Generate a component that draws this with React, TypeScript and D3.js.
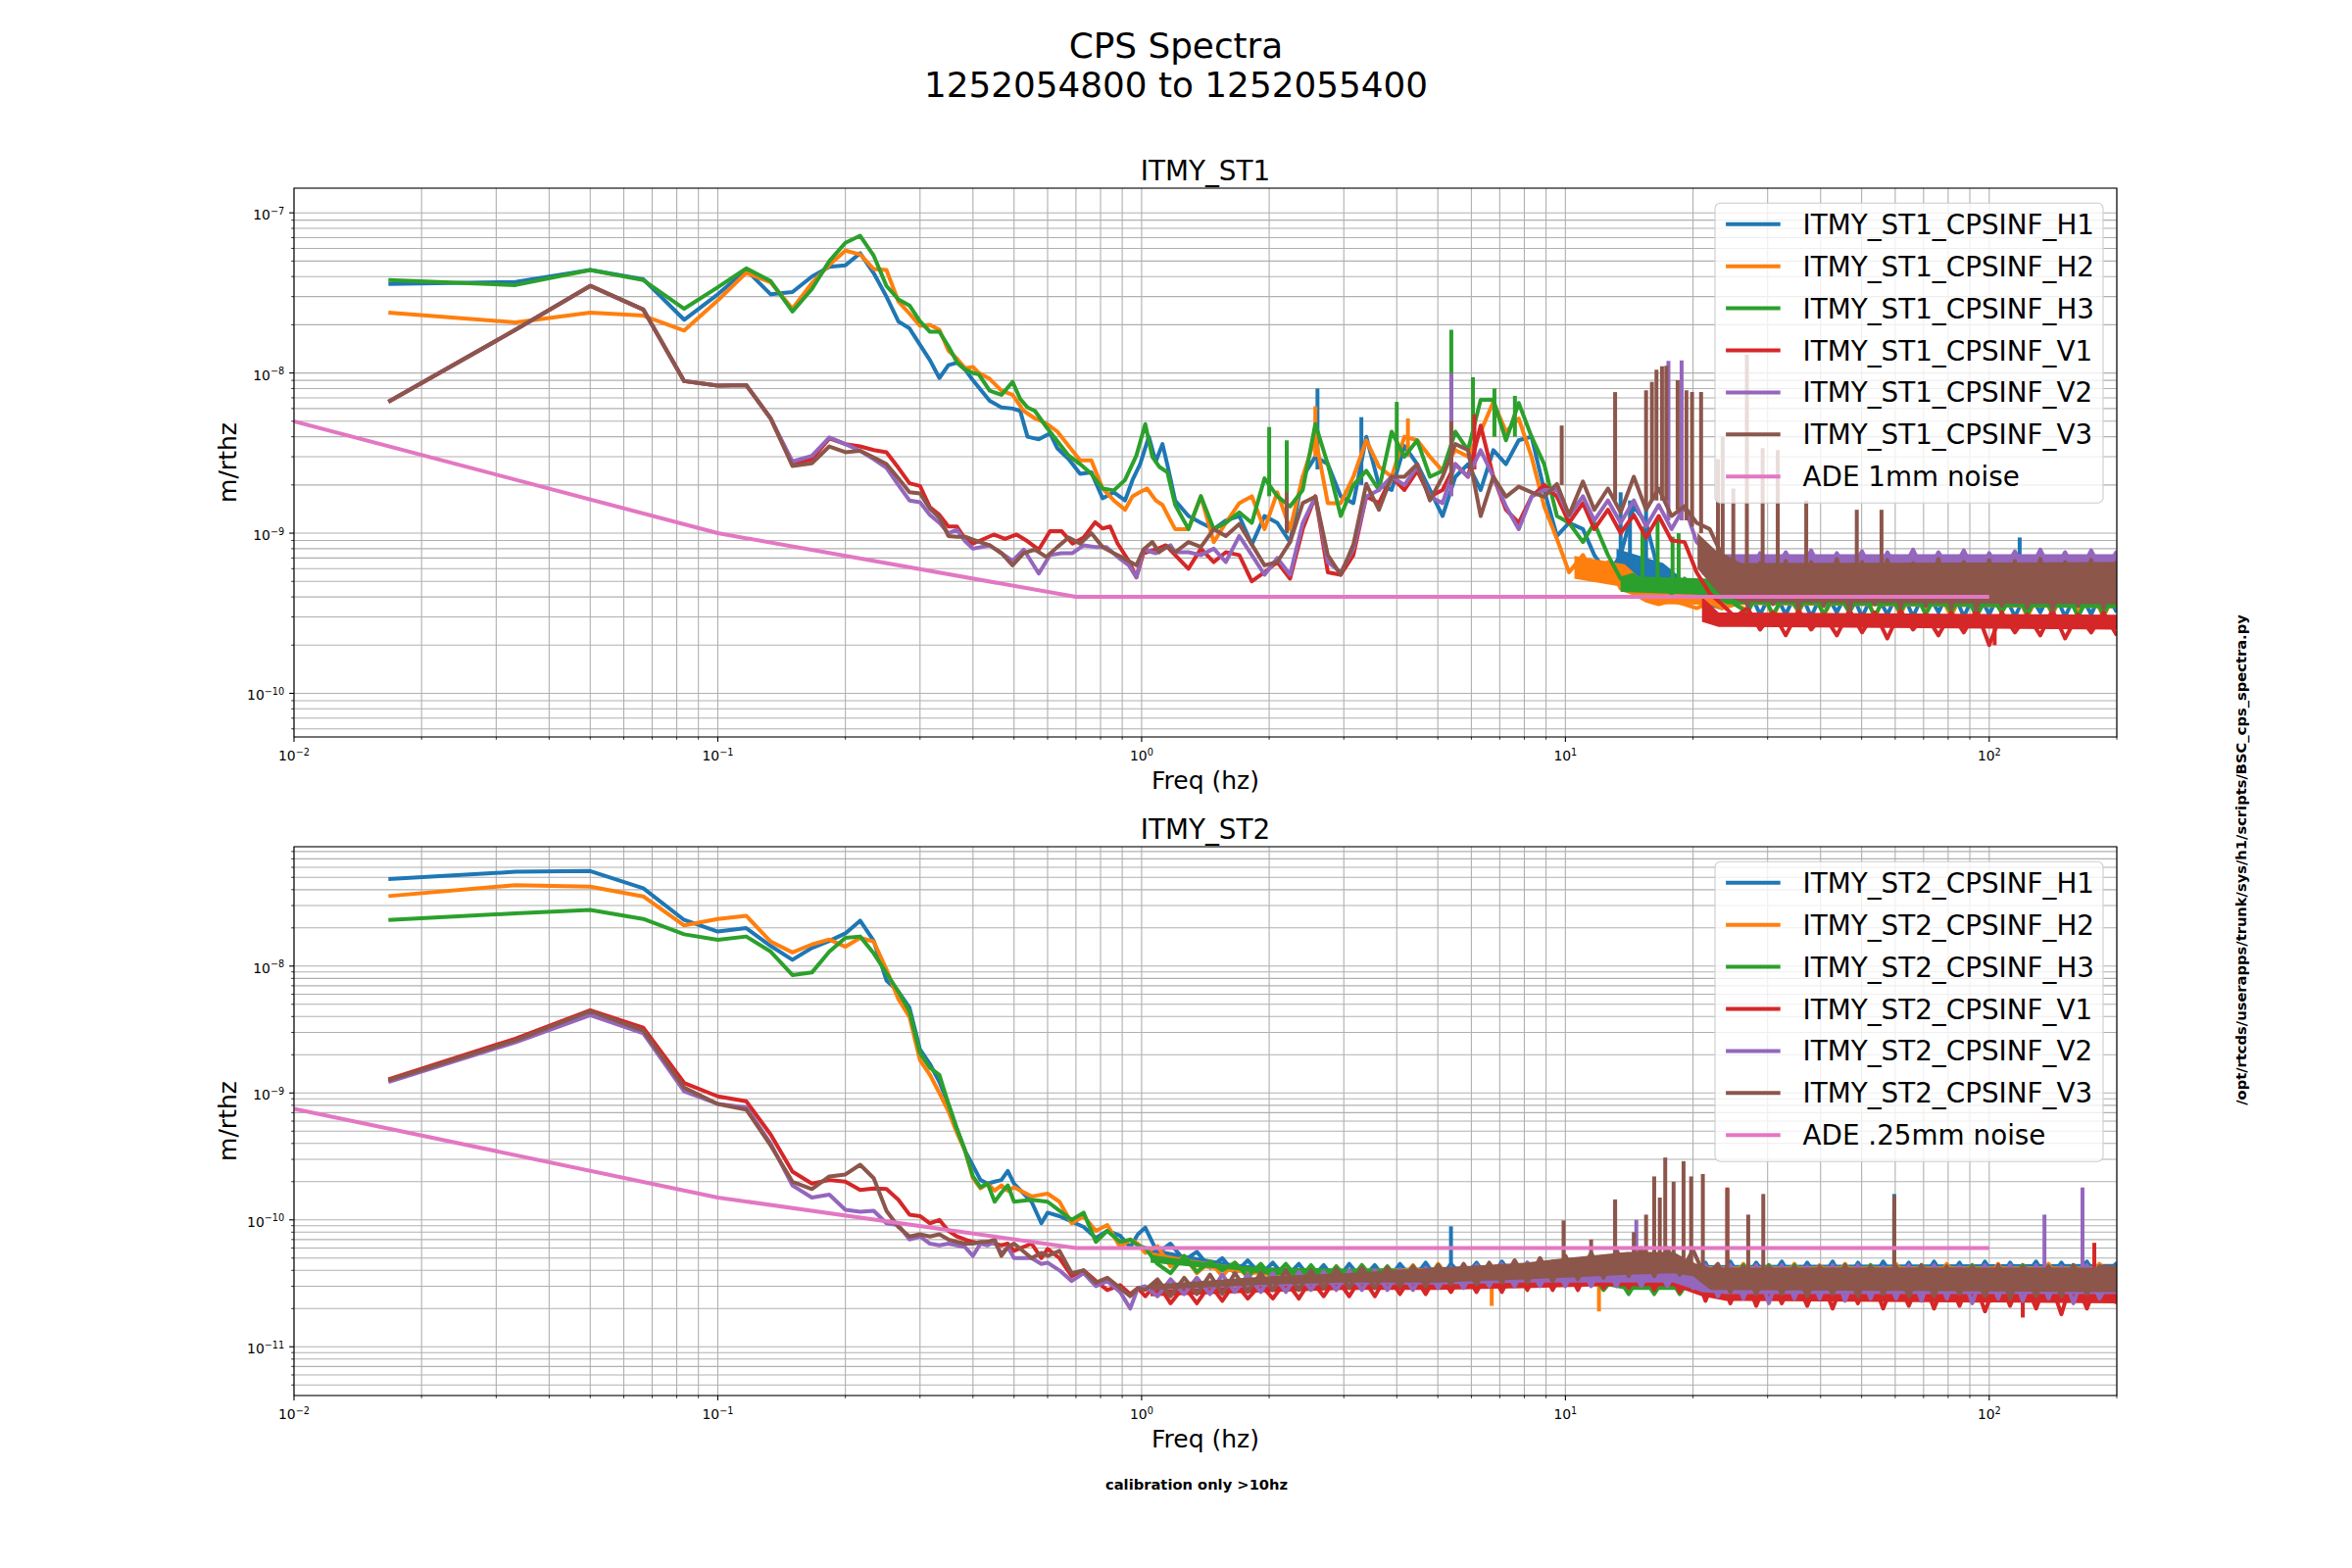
import * as d3 from 'd3';

type Pt = [number, number];
type Spike = [number, number, number]; // freq, from, to (in panel units)
type Band = [number, number, number]; // freq, low, high (in panel units)

const W = 2400;
const H = 1600;
const AX_LEFT = 300;
const AX_RIGHT = 2160;
const AX_H = 560;
const COLORS = ['#1f77b4', '#ff7f0e', '#2ca02c', '#d62728', '#9467bd', '#8c564b', '#e377c2'];

const X_DOMAIN: [number, number] = [0.01, 200];
const ST1_Y: [number, number] = [5.34e-11, 1.426e-7];
const ST2_Y: [number, number] = [4.13e-12, 8.72e-8];
const ST1_UNIT = 1e-10;
const ST2_UNIT = 1e-12;

const ST1_LABELS = ['ITMY_ST1_CPSINF_H1', 'ITMY_ST1_CPSINF_H2', 'ITMY_ST1_CPSINF_H3', 'ITMY_ST1_CPSINF_V1', 'ITMY_ST1_CPSINF_V2', 'ITMY_ST1_CPSINF_V3', 'ADE 1mm noise'];
const ST2_LABELS = ['ITMY_ST2_CPSINF_H1', 'ITMY_ST2_CPSINF_H2', 'ITMY_ST2_CPSINF_H3', 'ITMY_ST2_CPSINF_V1', 'ITMY_ST2_CPSINF_V2', 'ITMY_ST2_CPSINF_V3', 'ADE .25mm noise'];

// ================= ITMY_ST1 =================
// low-frequency part, m/rtHz
const ST1_H1_LF: Pt[] = [[0.0167,3.6e-8],[0.0333,3.7e-8],[0.05,4.4e-8],[0.0667,3.85e-8],[0.0833,2.15e-8],[0.1,3.1e-8],[0.1167,4.4e-8],[0.1333,3.1e-8],[0.15,3.2e-8],[0.1667,4.0e-8],[0.1833,4.6e-8],[0.2,4.7e-8],[0.2167,5.6e-8],[0.2333,4.2e-8],[0.25,3.0e-8],[0.2667,2.1e-8],[0.2833,1.9e-8],[0.3,1.5e-8],[0.3167,1.2e-8],[0.3333,9.3e-9],[0.35,1.12e-8],[0.3667,1.16e-8],[0.3833,1.05e-8],[0.4,9.0e-9],
  [0.438,6.7e-9],[0.467,6.1e-9],[0.496,6.0e-9],[0.517,5.8e-9],[0.538,4.0e-9],[0.572,3.85e-9],[0.608,4.2e-9],[0.632,3.4e-9],[0.673,2.9e-9],[0.716,2.35e-9],[0.761,2.4e-9],[0.809,1.65e-9],[0.86,1.8e-9],[0.914,1.6e-9],[0.952,2.15e-9],[0.992,2.7e-9],[1.04,4.0e-9],[1.08,2.8e-9],[1.12,3.6e-9],[1.153,2.6e-9]];
const ST1_H2_LF: Pt[] = [[0.0167,2.38e-8],[0.0333,2.07e-8],[0.05,2.38e-8],[0.0667,2.28e-8],[0.0833,1.84e-8],[0.1,2.84e-8],[0.1167,4.22e-8],[0.1333,3.68e-8],[0.15,2.52e-8],[0.1667,3.64e-8],[0.1833,4.73e-8],[0.2,5.81e-8],[0.2167,5.5e-8],[0.2333,4.46e-8],[0.25,4.4e-8],[0.2667,2.8e-8],[0.2833,2.35e-8],[0.3,1.97e-8],[0.3167,2.0e-8],[0.3333,1.86e-8],[0.35,1.38e-8],[0.3667,1.23e-8],[0.3833,1.07e-8],[0.4,1.09e-8],
  [0.413,1.0e-8],[0.438,9.2e-9],[0.467,7.75e-9],[0.496,7.3e-9],[0.527,5.8e-9],[0.56,5.2e-9],[0.596,4.85e-9],[0.633,4.3e-9],[0.673,3.5e-9],[0.716,2.85e-9],[0.761,2.85e-9],[0.809,1.9e-9],[0.86,1.6e-9],[0.914,1.4e-9],[0.952,1.7e-9],[0.99,1.8e-9],[1.03,1.9e-9],[1.08,1.6e-9],[1.12,1.5e-9],[1.17,1.2e-9]];
const ST1_H3_LF: Pt[] = [[0.0167,3.8e-8],[0.0333,3.54e-8],[0.05,4.4e-8],[0.0667,3.8e-8],[0.0833,2.52e-8],[0.1,3.43e-8],[0.1167,4.5e-8],[0.1333,3.75e-8],[0.15,2.42e-8],[0.1667,3.34e-8],[0.1833,5.0e-8],[0.2,6.5e-8],[0.2167,7.2e-8],[0.2333,5.4e-8],[0.25,3.5e-8],[0.2667,2.88e-8],[0.2833,2.64e-8],[0.3,2.1e-8],[0.3167,1.81e-8],[0.3333,1.81e-8],[0.35,1.47e-8],[0.3667,1.17e-8],[0.3833,1.05e-8],[0.4,1.0e-8],
  [0.413,9.8e-9],[0.438,7.75e-9],[0.467,7.3e-9],[0.496,8.8e-9],[0.517,6.9e-9],[0.538,6.1e-9],[0.56,5.8e-9],[0.596,4.6e-9],[0.633,3.75e-9],[0.673,3.05e-9],[0.716,2.7e-9],[0.761,2.35e-9],[0.809,1.9e-9],[0.86,1.85e-9],[0.914,2.15e-9],[0.972,3.05e-9],[1.02,4.8e-9],[1.06,3.0e-9],[1.1,2.6e-9],[1.15,2.4e-9]];
const ST1_V1_LF: Pt[] = [[0.0167,6.6e-9],[0.0333,1.86e-8],[0.05,3.5e-8],[0.0667,2.49e-8],[0.0833,8.9e-9],[0.1,8.35e-9],[0.1167,8.4e-9],[0.1333,5.2e-9],[0.15,2.7e-9],[0.1667,2.9e-9],[0.1833,3.9e-9],[0.2,3.6e-9],[0.2167,3.48e-9],[0.2333,3.3e-9],[0.25,3.2e-9],[0.2667,2.56e-9],[0.2833,2.05e-9],[0.3,1.97e-9],[0.3167,1.45e-9],[0.3333,1.3e-9],[0.35,1.1e-9],[0.3667,1.1e-9],[0.3833,9.2e-10],[0.4,8.6e-10],
  [0.448,9.8e-10],[0.476,9.2e-10],[0.507,9.8e-10],[0.538,8.9e-10],[0.572,7.9e-10],[0.608,1.03e-9],[0.647,1.03e-9],[0.687,8.6e-10],[0.73,9.4e-10],[0.777,1.17e-9],[0.809,1.07e-9],[0.843,1.1e-9],[0.878,8.6e-10],[0.933,6.7e-10],[0.972,5.3e-10],[1.01,7.5e-10],[1.08,7.9e-10],[1.14,8.4e-10]];
const ST1_V2_LF: Pt[] = [[0.0167,6.6e-9],[0.0333,1.86e-8],[0.05,3.5e-8],[0.0667,2.49e-8],[0.0833,8.9e-9],[0.1,8.35e-9],[0.1167,8.4e-9],[0.1333,5.2e-9],[0.15,2.8e-9],[0.1667,3.04e-9],[0.1833,3.96e-9],[0.2,3.6e-9],[0.2167,3.27e-9],[0.2333,2.9e-9],[0.25,2.56e-9],[0.2667,2.0e-9],[0.2833,1.6e-9],[0.3,1.56e-9],[0.3167,1.3e-9],[0.3333,1.16e-9],[0.35,1.0e-9],[0.3667,1.05e-9],[0.3833,8.9e-10],[0.4,8.0e-10],
  [0.438,8.4e-10],[0.467,7.5e-10],[0.496,6.7e-10],[0.527,7.9e-10],[0.572,5.6e-10],[0.608,7.3e-10],[0.647,7.5e-10],[0.687,7.5e-10],[0.73,8.4e-10],[0.777,8.2e-10],[0.826,8.2e-10],[0.878,7.1e-10],[0.933,6.3e-10],[0.972,5.3e-10],[1.01,7.9e-10],[1.08,7.5e-10],[1.17,8.4e-10]];
const ST1_V3_LF: Pt[] = [[0.0167,6.6e-9],[0.0333,1.86e-8],[0.05,3.5e-8],[0.0667,2.49e-8],[0.0833,8.9e-9],[0.1,8.35e-9],[0.1167,8.4e-9],[0.1333,5.2e-9],[0.15,2.63e-9],[0.1667,2.73e-9],[0.1833,3.48e-9],[0.2,3.2e-9],[0.2167,3.27e-9],[0.2333,2.97e-9],[0.25,2.7e-9],[0.2667,2.2e-9],[0.2833,1.8e-9],[0.3,1.77e-9],[0.3167,1.42e-9],[0.3333,1.25e-9],[0.35,9.6e-10],[0.3667,9.5e-10],[0.3833,9.5e-10],[0.4,9.1e-10],
  [0.438,8.4e-10],[0.467,7.5e-10],[0.496,6.3e-10],[0.527,7.5e-10],[0.56,7.9e-10],[0.596,7.1e-10],[0.633,8.2e-10],[0.673,9.4e-10],[0.716,8.6e-10],[0.761,1e-9],[0.809,8.2e-10],[0.86,7.5e-10],[0.914,6.9e-10],[0.972,6.3e-10],[1.01,7.9e-10],[1.06,8.8e-10],[1.1,7.6e-10],[1.15,8.3e-10]];

// noisy part above 1.2 Hz, values in units of 1e-10 m/rtHz
const ST1_HF_F = [1.2, 1.29, 1.38, 1.48, 1.58, 1.7, 1.82, 1.95, 2.09, 2.24,
  2.4, 2.57, 2.75, 2.95, 3.16, 3.39, 3.63, 3.89, 4.17, 4.47,
  4.79, 5.13, 5.5, 5.89, 6.31, 6.76, 7.24, 7.76, 8.32, 8.91,
  9.55, 10.2, 11.0, 11.7, 12.6, 13.5, 14.5, 15.5, 16.6, 17.8,
  19.1, 20.4, 21.9, 23.4, 25.1, 26.9, 28.8, 30.9, 33.1, 35.5,
  38.0, 40.7, 43.7, 46.8, 50.1, 53.7, 57.5, 61.7, 66.1, 70.8,
  75.9, 81.3, 87.1, 93.3, 100, 107, 115, 123, 132, 141,
  151, 162, 174, 186, 200];
const ST1_H1_HF = [16, 12.8, 11.6, 10.6, 12, 12.8, 8.5, 12.8, 11.6, 8.8,
  22.5, 30, 27, 17, 15.4, 40, 20, 18.6, 35, 27,
  18.6, 12.8, 22.5, 27, 18.6, 33, 27, 38, 40, 18.6,
  9.6, 11.6, 10.6, 7.3, 5.5, 7.3, 14.7, 11.6, 5.7, 4.5,
  4.2, 3.8, 3.6, 3.4, 3.6, 4.6, 3.1, 4.5, 3.1, 4.6,
  3.0, 4.5, 3.2, 4.6, 3.0, 4.4, 3.1, 4.6, 3.0, 4.5,
  3.2, 4.7, 3.0, 4.5, 3.1, 4.6, 3.0, 4.4, 3.2, 4.6,
  3.0, 4.5, 3.1, 4.6, 3.2];
const ST1_H2_HF = [10.6, 10.6, 17, 8.8, 11.6, 15.4, 17, 10.6, 18, 10.6,
  22.5, 40, 15.4, 15.4, 22.5, 38, 26, 22.5, 40, 38,
  30, 24.5, 33, 30, 43, 66, 43, 52, 30, 14.7,
  9.2, 5.7, 7.3, 5.5, 6.6, 4.5, 4.2, 3.8, 3.6, 3.8,
  3.6, 3.4, 3.7, 3.4, 3.6, 3.3, 4.6, 3.0, 4.4, 3.2,
  4.5, 3.1, 4.3, 3.2, 4.6, 3.0, 4.4, 3.1, 4.5, 3.2,
  4.4, 3.0, 4.6, 3.1, 4.4, 3.2, 4.5, 3.0, 4.4, 3.1,
  4.6, 3.2, 4.4, 3.0, 4.5];
const ST1_H3_HF = [15, 10.6, 17, 10.6, 11.6, 13.5, 11.6, 22, 17, 14.7,
  18.6, 48, 27, 12.8, 20, 24.5, 18.6, 43, 30, 38,
  22.5, 24.5, 43, 33, 68, 68, 38, 65, 40, 27,
  12.8, 11.6, 8.8, 11.6, 7.3, 5.2, 5.5, 4.5, 5.0, 4.2,
  5.2, 4.3, 4.0, 4.5, 3.6, 3.2, 4.5, 3.1, 4.3, 3.3,
  4.5, 3.1, 4.4, 3.2, 4.5, 3.0, 4.4, 3.2, 4.6, 3.1,
  4.4, 3.2, 4.5, 3.0, 4.3, 3.2, 4.5, 3.1, 4.4, 3.2,
  4.6, 3.0, 4.4, 3.1, 4.5];
const ST1_V1_HF = [7.3, 6, 8, 6.6, 7.6, 7.3, 5, 5.7, 6.6, 5.2,
  10.6, 17, 5.7, 5.5, 7.3, 17, 15.4, 22.5, 18.6, 24.5,
  16.9, 18.6, 27, 22.5, 47, 22.5, 14, 11.6, 16.9, 20,
  16.9, 11.6, 15.4, 10.6, 14, 10, 13, 9.4, 12.8, 9,
  8.8, 5.7, 4.2, 3.6, 3.0, 3.4, 2.5, 3.2, 2.3, 3.3,
  2.5, 3.1, 2.3, 3.3, 2.4, 3.2, 2.2, 3.3, 2.5, 3.1,
  2.3, 3.2, 2.4, 3.3, 2.0, 3.2, 2.4, 3.1, 2.3, 3.3,
  2.2, 3.1, 2.4, 3.2, 2.3];
const ST1_V2_HF = [7.6, 7.6, 7.3, 8, 6.6, 9.6, 7.3, 5.5, 7, 5.5,
  11.6, 16.9, 6.6, 5.7, 8, 16.9, 18.6, 22.5, 20, 26,
  16.9, 15.4, 27, 22.5, 33, 22.5, 14.7, 10.6, 16.9, 18.6,
  18.6, 12.8, 17, 12, 16, 11.6, 16, 11, 15, 10.6,
  14.7, 8.8, 7.3, 6.6, 6.6, 5.3, 7.5, 5.6, 7.6, 5.5,
  7.8, 5.4, 7.5, 5.6, 7.7, 5.3, 7.6, 5.5, 7.9, 5.4,
  7.6, 5.6, 7.8, 5.3, 7.5, 5.6, 7.7, 5.4, 7.9, 5.5,
  7.6, 5.3, 7.8, 5.5, 7.7];
const ST1_V3_HF = [7.6, 8.8, 8.2, 10.6, 9.6, 11.4, 8.5, 6.3, 6.6, 8.8,
  15.4, 16.9, 7.3, 5.5, 8.5, 20.3, 14, 22.5, 22.5, 27,
  16, 22.5, 36, 33, 12.8, 22.5, 16.9, 19.5, 18, 16.9,
  20.3, 13, 21, 14, 19, 13.5, 22.5, 14, 19, 12.8,
  14.7, 11.6, 10.6, 7.3, 6.6, 3.5, 6.5, 3.6, 6.7, 3.4,
  6.6, 3.5, 6.9, 3.3, 6.6, 3.6, 6.8, 3.4, 6.5, 3.5,
  6.9, 3.4, 6.6, 3.3, 6.8, 3.5, 6.7, 3.4, 6.9, 3.3,
  6.6, 3.5, 6.8, 3.4, 6.7];

// dense parts of each trace, [freq, low, high] in 1e-10 units
const ST1_H1_CORE: Band[] = [[13.2,5.5,8],[17,4.5,6.5],[20,3.6,4.6],[200,3.4,4.3]];
const ST1_H2_CORE: Band[] = [[10.5,5.2,7.2],[13.8,4.6,6.4],[16,3.6,4.5],[200,3.4,4.3]];
const ST1_H3_CORE: Band[] = [[13.5,4.3,5.4],[22,4.1,5.2],[24,3.6,4.3],[200,3.4,4.3]];
const ST1_V1_CORE: Band[] = [[21,2.8,4],[23,2.6,3.2],[200,2.5,3.1]];
const ST1_V2_CORE: Band[] = [[21,5.5,8],[23,5.7,7.4],[200,5.7,7.4]];
const ST1_V3_CORE: Band[] = [[20.5,6,10],[23,4.2,7.5],[26,3.7,6.5],[200,3.6,6.6]];

// narrow lines, [freq, base, peak] in 1e-10 units
const ST1_H1_SPIKES: Spike[] = [[2.6,25,80],[3.3,20,53],[13.5,6,18],[14.2,6,16],[15.5,6,15],[118,4,9.4]];
const ST1_H2_SPIKES: Spike[] = [[2.57,30,62],[4.25,30,52],[6.8,40,66]];
const ST1_H3_SPIKES: Spike[] = [[2.0,17,46],[2.2,15,38],[4.0,25,66],[5.38,25,186],[6.05,40,94],[6.8,40,80],[7.6,40,72],[15.2,5,11],[16.5,5,12],[17.9,4.5,9.5],[18.5,5,10]];
const ST1_V1_SPIKES: Spike[] = [[6.1,25,55],[103,3,2.0]];
const ST1_V2_SPIKES: Spike[] = [[5.38,17,100],[17.5,12,119],[18.8,12,120]];
const ST1_V3_SPIKES: Spike[] = [[2.2,10,18],[5.38,20,50],[9.8,20,47],[13.1,16,76],[15.5,15,78],[16,16,88],[16.4,16,105],[16.9,16,110],[17.3,16,111],[18.4,14,90],[19.3,12,78],[19.9,11,76],[20.9,10,76],[22.9,6,29],[23.5,7,40],[24.9,5,19],[26.8,5,130],[29.2,4.5,34],[31.7,4.5,33],[37,4.5,16],[48.7,5,14],[55.7,5,14]];

const ST1_ADE: Pt[] = [[0.01,5e-9],[0.1,1e-9],[0.7,4e-10],[100,4e-10]];

// ================= ITMY_ST2 =================
const ST2_H1_LF: Pt[] = [[0.0167,4.85e-8],[0.0333,5.53e-8],[0.05,5.61e-8],[0.0667,4.11e-8],[0.0833,2.31e-8],[0.1,1.87e-8],[0.1167,1.99e-8],[0.1333,1.44e-8],[0.15,1.12e-8],[0.1667,1.39e-8],[0.1833,1.58e-8],[0.2,1.81e-8],[0.2167,2.28e-8],[0.2333,1.58e-8],[0.25,7.7e-9],[0.2667,6.3e-9],[0.2833,4.7e-9],[0.3,2.2e-9],[0.3167,1.69e-9],[0.3333,1.22e-9],[0.35,8.2e-10],[0.3667,5.2e-10],[0.3833,3.5e-10],[0.4,2.68e-10],[0.4167,2.06e-10],[0.4333,1.93e-10],[0.45,2.0e-10],[0.4667,2.06e-10],[0.4833,2.43e-10],[0.5,1.93e-10],[0.55,1.39e-10],[0.58,9.4e-11],[0.6,1.14e-10],[0.64,1.07e-10],[0.684,9.7e-11],[0.73,8.8e-11],[0.78,7.2e-11],[0.83,8.2e-11],[0.89,7.5e-11],[0.94,6.1e-11],[0.98,7.7e-11]];
const ST2_H2_LF: Pt[] = [[0.0167,3.56e-8],[0.0333,4.34e-8],[0.05,4.22e-8],[0.0667,3.54e-8],[0.0833,2.09e-8],[0.1,2.35e-8],[0.1167,2.49e-8],[0.1333,1.56e-8],[0.15,1.28e-8],[0.1667,1.48e-8],[0.1833,1.62e-8],[0.2,1.42e-8],[0.2167,1.67e-8],[0.2333,1.56e-8],[0.25,9.4e-9],[0.2667,5.5e-9],[0.2833,3.98e-9],[0.3,1.81e-9],[0.3167,1.39e-9],[0.3333,1.0e-9],[0.35,7.2e-10],[0.3667,4.85e-10],[0.3833,3.5e-10],[0.4,2.13e-10],[0.4167,1.77e-10],[0.4333,1.93e-10],[0.45,1.7e-10],[0.4667,1.87e-10],[0.4833,1.7e-10],[0.5,1.81e-10],[0.55,1.53e-10],[0.6,1.61e-10],[0.64,1.39e-10],[0.684,9.4e-11],[0.73,1.07e-10],[0.78,8.2e-11],[0.83,9.1e-11],[0.89,6.1e-11],[0.94,7.0e-11],[0.98,6.5e-11]];
const ST2_H3_LF: Pt[] = [[0.0167,2.31e-8],[0.0333,2.6e-8],[0.05,2.77e-8],[0.0667,2.35e-8],[0.0833,1.78e-8],[0.1,1.61e-8],[0.1167,1.71e-8],[0.1333,1.3e-8],[0.15,8.5e-9],[0.1667,8.9e-9],[0.1833,1.3e-8],[0.2,1.67e-8],[0.2167,1.71e-8],[0.2333,1.26e-8],[0.25,8.8e-9],[0.2667,6.3e-9],[0.2833,4.4e-9],[0.3,2.06e-9],[0.3167,1.58e-9],[0.3333,1.39e-9],[0.35,8.2e-10],[0.3667,5.2e-10],[0.3833,3.5e-10],[0.4,2.2e-10],[0.4167,1.81e-10],[0.4333,1.93e-10],[0.45,1.39e-10],[0.4667,1.64e-10],[0.4833,1.87e-10],[0.5,1.39e-10],[0.55,1.44e-10],[0.6,1.39e-10],[0.64,1.18e-10],[0.684,1.0e-10],[0.73,1.14e-10],[0.78,6.7e-11],[0.83,8.2e-11],[0.89,6.7e-11],[0.94,7.0e-11],[0.98,6.3e-11]];
const ST2_V1_LF: Pt[] = [[0.0167,1.28e-9],[0.0333,2.68e-9],[0.05,4.48e-9],[0.0667,3.27e-9],[0.0833,1.2e-9],[0.1,9.4e-10],[0.1167,8.6e-10],[0.1333,4.7e-10],[0.15,2.4e-10],[0.1667,1.93e-10],[0.1833,2.06e-10],[0.2,2.0e-10],[0.2167,1.72e-10],[0.2333,1.77e-10],[0.25,1.75e-10],[0.2667,1.44e-10],[0.2833,1.1e-10],[0.3,1.07e-10],[0.3167,9.4e-11],[0.3333,1.0e-10],[0.35,8.2e-11],[0.3667,7.4e-11],[0.3833,7.0e-11],[0.4,6.7e-11],[0.4167,6.5e-11],[0.4333,6.7e-11],[0.45,6.5e-11],[0.4667,6.3e-11],[0.4833,6.5e-11],[0.5,5.7e-11],[0.55,6.5e-11],[0.58,5.0e-11],[0.6,5.9e-11],[0.64,5.0e-11],[0.684,3.6e-11],[0.73,4.0e-11],[0.78,3.3e-11],[0.83,2.8e-11],[0.89,3.06e-11],[0.94,2.6e-11],[0.98,2.9e-11]];
const ST2_V2_LF: Pt[] = [[0.0167,1.22e-9],[0.0333,2.51e-9],[0.05,4.11e-9],[0.0667,2.96e-9],[0.0833,1.03e-9],[0.1,8.2e-10],[0.1167,7.7e-10],[0.1333,4.0e-10],[0.15,1.87e-10],[0.1667,1.5e-10],[0.1833,1.58e-10],[0.2,1.2e-10],[0.2167,1.16e-10],[0.2333,1.18e-10],[0.25,9.4e-11],[0.2667,9.1e-11],[0.2833,7.0e-11],[0.3,7.4e-11],[0.3167,6.5e-11],[0.3333,6.3e-11],[0.35,6.5e-11],[0.3667,6.3e-11],[0.3833,6.1e-11],[0.4,5.2e-11],[0.4167,6.5e-11],[0.4333,6.3e-11],[0.45,6.7e-11],[0.4667,5.4e-11],[0.4833,6.1e-11],[0.5,5.0e-11],[0.55,5.0e-11],[0.58,4.5e-11],[0.6,4.6e-11],[0.64,4.0e-11],[0.684,3.3e-11],[0.73,3.8e-11],[0.78,3.0e-11],[0.83,3.3e-11],[0.89,2.7e-11],[0.94,2.0e-11],[0.98,2.9e-11]];
const ST2_V3_LF: Pt[] = [[0.0167,1.26e-9],[0.0333,2.6e-9],[0.05,4.4e-9],[0.0667,3.1e-9],[0.0833,1.1e-9],[0.1,8.2e-10],[0.1167,7.4e-10],[0.1333,3.85e-10],[0.15,2.0e-10],[0.1667,1.75e-10],[0.1833,2.2e-10],[0.2,2.28e-10],[0.2167,2.72e-10],[0.2333,2.13e-10],[0.25,1.18e-10],[0.2667,8.8e-11],[0.2833,7.4e-11],[0.3,7.7e-11],[0.3167,7.4e-11],[0.3333,7.7e-11],[0.35,7.0e-11],[0.3667,6.7e-11],[0.3833,6.5e-11],[0.4,6.5e-11],[0.4167,6.7e-11],[0.4333,6.7e-11],[0.45,7.0e-11],[0.4667,5.2e-11],[0.4833,6.1e-11],[0.5,6.5e-11],[0.55,5.0e-11],[0.58,5.5e-11],[0.6,5.2e-11],[0.64,5.7e-11],[0.684,3.8e-11],[0.73,4.0e-11],[0.78,3.2e-11],[0.83,3.5e-11],[0.89,2.9e-11],[0.94,2.5e-11],[0.98,2.9e-11]];

// noisy part above 1 Hz, values in units of 1e-12 m/rtHz
const ST2_HF_F = [1.02, 1.09, 1.17, 1.26, 1.35, 1.45, 1.55, 1.66, 1.78, 1.91,
  2.04, 2.19, 2.35, 2.51, 2.69, 2.88, 3.09, 3.31, 3.55, 3.8,
  4.07, 4.37, 4.68, 5.01, 5.37, 5.75, 6.17, 6.61, 7.08, 7.59,
  8.13, 8.71, 9.33, 10.0, 10.7, 11.5, 12.3, 13.2, 14.1, 15.1,
  16.2, 17.4, 18.6, 20.0, 21.4, 22.9, 24.5, 26.3, 28.2, 30.2,
  32.4, 34.7, 37.2, 39.8, 42.7, 45.7, 49.0, 52.5, 56.2, 60.3,
  64.6, 69.2, 74.1, 79.4, 85.1, 91.2, 97.7, 105, 112, 120,
  129, 138, 148, 158, 170, 182, 200];
const ST2_H1_HF = [87, 55, 65, 48, 56, 42, 50, 38, 48, 37,
  46, 35, 45, 34, 44, 33, 45, 34, 44, 33,
  45, 34, 46, 33, 45, 35, 46, 33, 47, 34,
  46, 33, 47, 34, 45, 33, 46, 32, 45, 33,
  46, 32, 45, 33, 46, 31, 47, 32, 46, 33,
  47, 32, 46, 33, 47, 31, 46, 32, 47, 33,
  46, 32, 47, 33, 46, 31, 47, 32, 46, 33,
  47, 32, 46, 33, 47, 32, 46];
const ST2_H2_HF = [55, 62, 43, 52, 38, 47, 36, 46, 35, 44,
  34, 44, 33, 43, 32, 43, 33, 44, 32, 43,
  33, 44, 32, 45, 33, 44, 32, 45, 31, 44,
  33, 45, 32, 44, 31, 45, 32, 44, 33, 45,
  31, 44, 32, 45, 31, 44, 33, 45, 31, 44,
  32, 45, 31, 44, 33, 45, 32, 44, 31, 45,
  32, 44, 31, 45, 33, 44, 32, 45, 31, 44,
  32, 45, 31, 44, 32, 45, 33];
const ST2_H3_HF = [60, 45, 38, 52, 39, 47, 40, 46, 36, 45,
  35, 45, 34, 44, 33, 43, 33, 44, 33, 43,
  32, 43, 33, 44, 32, 43, 31, 43, 32, 42,
  31, 42, 30, 41, 31, 38, 28, 37, 26, 38,
  26, 38, 26, 37, 27, 39, 32, 44, 31, 44,
  32, 44, 31, 43, 32, 44, 31, 44, 32, 43,
  31, 44, 32, 43, 31, 44, 32, 43, 31, 44,
  32, 43, 31, 44, 32, 43, 31];
const ST2_V1_HF = [25, 32, 22, 30, 22, 31, 23, 32, 24, 31,
  24, 33, 24, 34, 25, 35, 25, 36, 25, 37,
  26, 38, 26, 39, 27, 40, 27, 41, 27, 43,
  28, 43, 28, 44, 28, 45, 29, 44, 29, 45,
  28, 44, 27, 44, 23, 40, 22, 38, 21, 37,
  22, 36, 21, 37, 20, 36, 22, 37, 20, 36,
  21, 37, 20, 36, 21, 37, 19, 36, 21, 37,
  20, 36, 18, 37, 20, 36, 22];
const ST2_V2_HF = [30, 25, 34, 26, 35, 26, 37, 27, 37, 27,
  38, 27, 39, 28, 39, 28, 40, 28, 40, 28,
  41, 28, 42, 29, 42, 29, 44, 30, 45, 30,
  46, 30, 47, 30, 48, 30, 47, 30, 48, 30,
  47, 30, 46, 29, 44, 25, 44, 24, 44, 22,
  44, 24, 43, 24, 44, 23, 44, 24, 43, 24,
  44, 23, 44, 24, 43, 22, 44, 24, 44, 23,
  44, 24, 43, 22, 44, 24, 42];
const ST2_V3_HF = [28, 34, 25, 35, 26, 37, 26, 38, 27, 38,
  28, 40, 28, 40, 29, 41, 29, 42, 29, 42,
  30, 43, 30, 44, 31, 45, 31, 46, 32, 48,
  32, 50, 33, 52, 34, 55, 35, 58, 36, 60,
  36, 60, 37, 58, 35, 45, 27, 43, 26, 43,
  26, 43, 25, 43, 26, 44, 25, 43, 26, 43,
  25, 44, 25, 43, 26, 43, 25, 44, 24, 43,
  25, 43, 25, 44, 26, 43, 42];

// dense core, [freq, low, high] in 1e-12 units
const ST2_H1_CORE: Band[] = [[1.05,55,60],[1.3,47,52],[1.6,41,46],[2,38,42],[3,36,41],[6,35,43],[10,35,44],[20,34,44],[200,34,45]];
const ST2_H2_CORE: Band[] = [[1.05,49,56],[1.3,43,49],[1.6,39,44],[2,36,41],[3,35,41],[10,34,43],[20,33,43],[200,33,43]];
const ST2_H3_CORE: Band[] = [[1.05,46,53],[1.3,43,48],[1.6,41,44],[2,37,42],[4,35,41],[8,33,40],[12,31,37],[14,28,36],[19,28,36],[22,33,42],[200,33,42]];
const ST2_V1_CORE: Band[] = [[1.05,25,28],[2,27,30],[3,28,32],[5,28,36],[8,29,41],[12,30,43],[18,30,42],[21,25,38],[24,23,35],[200,22,35]];
const ST2_V2_CORE: Band[] = [[1.05,28,31],[2,30,34],[3,31,36],[5,31,40],[8,32,45],[12,32,46],[18,32,44],[21,27,42],[24,26,42],[200,26,42]];
const ST2_V3_CORE: Band[] = [[1.05,28,31],[2,31,36],[3,32,38],[5,32,42],[8,34,46],[10,35,50],[14,37,56],[18,38,56],[20,36,46],[22,28,42],[200,27,42]];

// [freq, from, to] in 1e-12 units
const ST2_H1_SPIKES: Spike[] = [[5.37,38,89],[59.7,40,160]];
const ST2_H2_SPIKES: Spike[] = [[6.7,21,40],[12,19,40]];
const ST2_H3_SPIKES: Spike[] = [[59.7,40,120]];
const ST2_V1_SPIKES: Spike[] = [[24.1,30,180],[177,25,66],[120,17,30]];
const ST2_V2_SPIKES: Spike[] = [[13.1,40,140],[14.7,45,100],[135,40,110],[166,40,180]];
const ST2_V3_SPIKES: Spike[] = [[9.9,40,99],[11.5,40,70],[13.1,40,145],[14.5,45,80],[15.5,45,110],[16.2,50,220],[16.7,50,150],[17.2,55,310],[18.0,50,200],[19.0,50,290],[19.8,45,220],[21.1,40,230],[24.1,35,175],[27.0,35,110],[29.3,35,160],[59.7,35,155]];

const ST2_ADE: Pt[] = [[0.01,7.5e-10],[0.1,1.5e-10],[0.7,6e-11],[100,6e-11]];

interface Series {
  pts: Pt[];
  spikes: Spike[];
  core: Band[];
}

function joinSeries(lf: Pt[], hfF: number[], hf: number[], unit: number, spikes: Spike[], core: Band[]): Series {
  const n = Math.min(hfF.length, hf.length);
  const tail: Pt[] = hfF.slice(0, n).map((f, i) => [f, hf[i] * unit]);
  return { pts: lf.concat(tail), spikes, core };
}

const ST1_SERIES: Series[] = [
  joinSeries(ST1_H1_LF, ST1_HF_F, ST1_H1_HF, ST1_UNIT, ST1_H1_SPIKES, ST1_H1_CORE),
  joinSeries(ST1_H2_LF, ST1_HF_F, ST1_H2_HF, ST1_UNIT, ST1_H2_SPIKES, ST1_H2_CORE),
  joinSeries(ST1_H3_LF, ST1_HF_F, ST1_H3_HF, ST1_UNIT, ST1_H3_SPIKES, ST1_H3_CORE),
  joinSeries(ST1_V1_LF, ST1_HF_F, ST1_V1_HF, ST1_UNIT, ST1_V1_SPIKES, ST1_V1_CORE),
  joinSeries(ST1_V2_LF, ST1_HF_F, ST1_V2_HF, ST1_UNIT, ST1_V2_SPIKES, ST1_V2_CORE),
  joinSeries(ST1_V3_LF, ST1_HF_F, ST1_V3_HF, ST1_UNIT, ST1_V3_SPIKES, ST1_V3_CORE),
  { pts: ST1_ADE, spikes: [], core: [] },
];
const ST2_SERIES: Series[] = [
  joinSeries(ST2_H1_LF, ST2_HF_F, ST2_H1_HF, ST2_UNIT, ST2_H1_SPIKES, ST2_H1_CORE),
  joinSeries(ST2_H2_LF, ST2_HF_F, ST2_H2_HF, ST2_UNIT, ST2_H2_SPIKES, ST2_H2_CORE),
  joinSeries(ST2_H3_LF, ST2_HF_F, ST2_H3_HF, ST2_UNIT, ST2_H3_SPIKES, ST2_H3_CORE),
  joinSeries(ST2_V1_LF, ST2_HF_F, ST2_V1_HF, ST2_UNIT, ST2_V1_SPIKES, ST2_V1_CORE),
  joinSeries(ST2_V2_LF, ST2_HF_F, ST2_V2_HF, ST2_UNIT, ST2_V2_SPIKES, ST2_V2_CORE),
  joinSeries(ST2_V3_LF, ST2_HF_F, ST2_V3_HF, ST2_UNIT, ST2_V3_SPIKES, ST2_V3_CORE),
  { pts: ST2_ADE, spikes: [], core: [] },
];

const isMajor = (t: number) => Math.abs(Math.log10(t) - Math.round(Math.log10(t))) < 1e-6;
const expo = (t: number) => {
  const e = Math.round(Math.log10(t));
  return e < 0 ? `\u2212${-e}` : `${e}`;
};

interface PanelProps {
  id: string;
  top: number;
  title: string;
  yDomain: [number, number];
  unit: number;
  series: Series[];
  labels: string[];
}

function Panel({ id, top, title, yDomain, unit, series, labels }: PanelProps) {
  const bottom = top + AX_H;
  const x = d3.scaleLog().domain(X_DOMAIN).range([AX_LEFT, AX_RIGHT]);
  const y = d3.scaleLog().domain(yDomain).range([bottom, top]);
  const lineGen = d3.line<Pt>().x((d) => x(d[0])).y((d) => y(d[1]));
  const areaGen = d3.area<Band>().x((d) => x(d[0])).y0((d) => y(d[1] * unit)).y1((d) => y(d[2] * unit));
  const xTicks = x.ticks().filter((t) => t >= X_DOMAIN[0] * 0.999 && t <= X_DOMAIN[1] * 1.001);
  const yTicks = y.ticks().filter((t) => t >= yDomain[0] && t <= yDomain[1]);
  const midX = (AX_LEFT + AX_RIGHT) / 2;
  const legTop = top + 15.3;
  const legLeft = 1750;
  const legRight = 2146;
  const rowH = 42.9;

  return (
    <g>
      <defs>
        <clipPath id={id}>
          <rect x={AX_LEFT} y={top} width={AX_RIGHT - AX_LEFT} height={AX_H} />
        </clipPath>
      </defs>
      <g stroke="#b0b0b0" strokeWidth={1.1}>
        {xTicks.map((t, i) => (
          <line key={`gx${i}`} x1={x(t)} x2={x(t)} y1={top} y2={bottom} />
        ))}
        {yTicks.map((t, i) => (
          <line key={`gy${i}`} x1={AX_LEFT} x2={AX_RIGHT} y1={y(t)} y2={y(t)} />
        ))}
      </g>
      <g clipPath={`url(#${id})`} fill="none" strokeWidth={4} strokeLinejoin="round">
        {series.map((s, i) => (
          <g key={`s${i}`}>
            {s.core.length > 0 && <path d={areaGen(s.core) || ''} fill={COLORS[i]} stroke="none" />}
            <path d={lineGen(s.pts) || ''} stroke={COLORS[i]} />
            {s.spikes.map((sp, k) => (
              <line key={`sp${k}`} x1={x(sp[0])} x2={x(sp[0])} y1={y(sp[1] * unit)} y2={y(sp[2] * unit)} stroke={COLORS[i]} />
            ))}
          </g>
        ))}
      </g>
      <rect x={AX_LEFT} y={top} width={AX_RIGHT - AX_LEFT} height={AX_H} fill="none" stroke="#000" strokeWidth={1.1} />
      <g stroke="#000">
        {xTicks.map((t, i) => (
          <line key={`tx${i}`} x1={x(t)} x2={x(t)} y1={bottom} y2={bottom + (isMajor(t) ? 4.9 : 2.8)} strokeWidth={isMajor(t) ? 1.1 : 0.8} />
        ))}
        {yTicks.map((t, i) => (
          <line key={`ty${i}`} x1={AX_LEFT} x2={AX_LEFT - (isMajor(t) ? 4.9 : 2.8)} y1={y(t)} y2={y(t)} strokeWidth={isMajor(t) ? 1.1 : 0.8} />
        ))}
      </g>
      <g fontSize={13.9} fill="#000">
        {xTicks.filter(isMajor).map((t, i) => (
          <text key={`lx${i}`} x={x(t)} y={bottom + 24} textAnchor="middle">
            10<tspan dy={-5.5} fontSize={9.7}>{expo(t)}</tspan>
          </text>
        ))}
        {yTicks.filter(isMajor).map((t, i) => (
          <text key={`ly${i}`} x={AX_LEFT - 9.8} y={y(t) + 7} textAnchor="end">
            10<tspan dy={-5.5} fontSize={9.7}>{expo(t)}</tspan>
          </text>
        ))}
      </g>
      <text x={midX} y={top - 8.3} textAnchor="middle" fontSize={27.8}>{title}</text>
      <text x={midX} y={bottom + 52.7} textAnchor="middle" fontSize={25}>Freq (hz)</text>
      <text transform={`translate(241,${(top + bottom) / 2}) rotate(-90)`} textAnchor="middle" fontSize={25}>m/rthz</text>
      <rect x={legLeft} y={legTop} width={legRight - legLeft} height={306} rx={5.6} fill="#fff" fillOpacity={0.8} stroke="#cccccc" strokeWidth={1.1} />
      {labels.map((lab, i) => {
        const cy = legTop + 21.5 + i * rowH;
        return (
          <g key={`lg${i}`}>
            <line x1={legLeft + 11.1} x2={legLeft + 66.7} y1={cy} y2={cy} stroke={COLORS[i]} strokeWidth={4} />
            <text x={legLeft + 89.5} y={cy + 10} fontSize={27.8}>{lab}</text>
          </g>
        );
      })}
    </g>
  );
}

export default function App() {
  return (
    <div style={{ position: 'absolute', left: 0, top: 0 }}>
      <svg width={W} height={H} style={{ display: 'block', background: '#fff' }} fontFamily="'DejaVu Sans', sans-serif">
        <rect x={0} y={0} width={W} height={H} fill="#fff" />
        <text x={1200} y={59.3} textAnchor="middle" fontSize={35.8}>CPS Spectra</text>
        <text x={1200} y={99.3} textAnchor="middle" fontSize={35.8}>1252054800 to 1252055400</text>
        <Panel id="clip-st1" top={192} title="ITMY_ST1" yDomain={ST1_Y} unit={ST1_UNIT} series={ST1_SERIES} labels={ST1_LABELS} />
        <Panel id="clip-st2" top={864} title="ITMY_ST2" yDomain={ST2_Y} unit={ST2_UNIT} series={ST2_SERIES} labels={ST2_LABELS} />
        <text x={1128} y={1520} fontSize={14.7} fontWeight="bold">calibration only &gt;10hz</text>
        <text transform="translate(2292,877.5) rotate(-90)" textAnchor="middle" fontSize={14.7} fontWeight="bold">/opt/rtcds/userapps/trunk/sys/h1/scripts/BSC_cps_spectra.py</text>
      </svg>
    </div>
  );
}
